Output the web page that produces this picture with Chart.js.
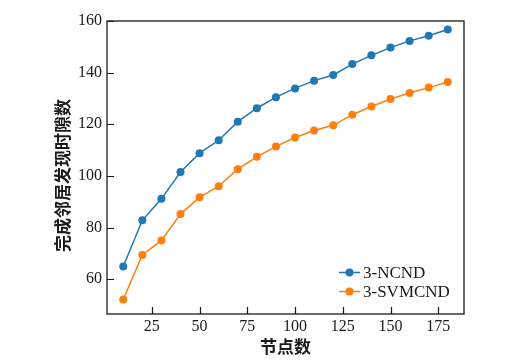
<!DOCTYPE html>
<html>
<head>
<meta charset="utf-8">
<script src="https://cdn.jsdelivr.net/npm/chart.js@4/dist/chart.umd.min.js"></script>
<style>
  html, body { margin: 0; padding: 0; background: #fff; }
  canvas { display: block; }
</style>
</head>
<body>
<canvas id="c" width="531" height="364"></canvas>
<script>
// node counts (x) and slot counts for each method
const nodes = [10, 20, 30, 40, 50, 60, 70, 80, 90, 100, 110, 120, 130, 140, 150, 160, 170, 180];
const ncnd = [64.9, 82.8, 91.1, 101.5, 108.8, 113.8, 121.0, 126.2, 130.5, 133.9, 136.9, 139.1, 143.3, 146.7, 149.7, 152.3, 154.3, 156.7];
const svmcnd = [52.1, 69.4, 75.0, 85.2, 91.7, 96.0, 102.6, 107.4, 111.4, 114.9, 117.6, 119.6, 123.7, 126.9, 129.8, 132.1, 134.2, 136.4];
const xTicks = [25, 50, 75, 100, 125, 150, 175];
const yTicks = [60, 80, 100, 120, 140, 160];
const seriesNames = ['3-NCND', '3-SVMCND'];
const xTitle = '节点数';
const yTitle = '完成邻居发现时隙数';

const BLUE = '#1f77b4', ORANGE = '#ff7f0e', INK = '#1a1a1a';
const serif = "'Liberation Serif', 'Times New Roman', serif";
const cjk = "'Noto Sans CJK SC', sans-serif";

// box around the plot, tick marks pointing in, y title, legend in lower right
const framePlugin = {
  id: 'frame',
  afterDatasetsDraw(chart){
    const {ctx, chartArea: a, scales} = chart;
    ctx.save();
    ctx.strokeStyle = INK;
    ctx.lineWidth = 1.3;
    ctx.strokeRect(a.left, a.top, a.right - a.left, a.bottom - a.top);

    ctx.lineWidth = 1.2;
    ctx.beginPath();
    xTicks.forEach(v => {
      const px = Math.round(scales.x.getPixelForValue(v)) + 0.5;
      ctx.moveTo(px, a.bottom); ctx.lineTo(px, a.bottom - 7);
    });
    yTicks.forEach(v => {
      const py = Math.round(scales.y.getPixelForValue(v)) + 0.5;
      ctx.moveTo(a.left, py); ctx.lineTo(a.left + 7, py);
    });
    ctx.stroke();

    ctx.save();
    ctx.translate(63, (a.top + a.bottom) / 2 + 8);
    ctx.rotate(-Math.PI / 2);
    ctx.fillStyle = INK;
    ctx.font = "bold 17px " + cjk;
    ctx.textAlign = 'center';
    ctx.textBaseline = 'middle';
    ctx.fillText(yTitle, 0, 0);
    ctx.restore();

    const rows = [a.bottom - 41.5, a.bottom - 22.5];
    chart.data.datasets.forEach((ds, i) => {
      const y = rows[i];
      const x0 = a.right - 125, x1 = a.right - 104;
      ctx.strokeStyle = ds.borderColor;
      ctx.lineWidth = 1.5;
      ctx.beginPath(); ctx.moveTo(x0, y); ctx.lineTo(x1, y); ctx.stroke();
      ctx.fillStyle = ds.borderColor;
      ctx.beginPath(); ctx.arc((x0 + x1) / 2, y, 4, 0, Math.PI * 2); ctx.fill();
      ctx.fillStyle = INK;
      ctx.font = "17px " + serif;
      ctx.textAlign = 'left';
      ctx.textBaseline = 'middle';
      ctx.fillText(ds.label, a.right - 101, y + 1);
    });
    ctx.restore();
  }
};

new Chart(document.getElementById('c'), {
  type: 'line',
  data: {
    datasets: [
      { label: seriesNames[0], data: nodes.map((x, i) => ({x, y: ncnd[i]})),
        borderColor: BLUE, backgroundColor: BLUE, borderWidth: 1.5,
        pointRadius: 4, pointBorderWidth: 0, pointBackgroundColor: BLUE, tension: 0 },
      { label: seriesNames[1], data: nodes.map((x, i) => ({x, y: svmcnd[i]})),
        borderColor: ORANGE, backgroundColor: ORANGE, borderWidth: 1.5,
        pointRadius: 4, pointBorderWidth: 0, pointBackgroundColor: ORANGE, tension: 0 }
    ]
  },
  options: {
    responsive: false,
    devicePixelRatio: 1,
    animation: false,
    clip: false,
    layout: { padding: { left: 0, top: 21, right: 67, bottom: 0 } },
    plugins: { legend: { display: false }, tooltip: { enabled: false } },
    scales: {
      x: {
        type: 'linear',
        min: 1.5, max: 188.5,
        afterBuildTicks: s => { s.ticks = xTicks.map(v => ({value: v})); },
        afterFit: s => { s.height = 50; },
        border: { display: false },
        grid: { display: false, drawTicks: false },
        ticks: { color: INK, font: { family: serif, size: 16 }, padding: 3, maxRotation: 0 },
        title: { display: true, text: xTitle, color: INK,
                 font: { family: cjk, size: 17, weight: 'bold' },
                 padding: { top: 0, bottom: 7 } }
      },
      y: {
        min: 46.5, max: 160,
        afterBuildTicks: s => { s.ticks = yTicks.map(v => ({value: v})); },
        afterFit: s => { s.width = 107; },
        border: { display: false },
        grid: { display: false, drawTicks: false },
        ticks: { color: INK, font: { family: serif, size: 16 }, padding: 5 },
        title: { display: false }
      }
    }
  },
  plugins: [framePlugin]
});
</script>
</body>
</html>
